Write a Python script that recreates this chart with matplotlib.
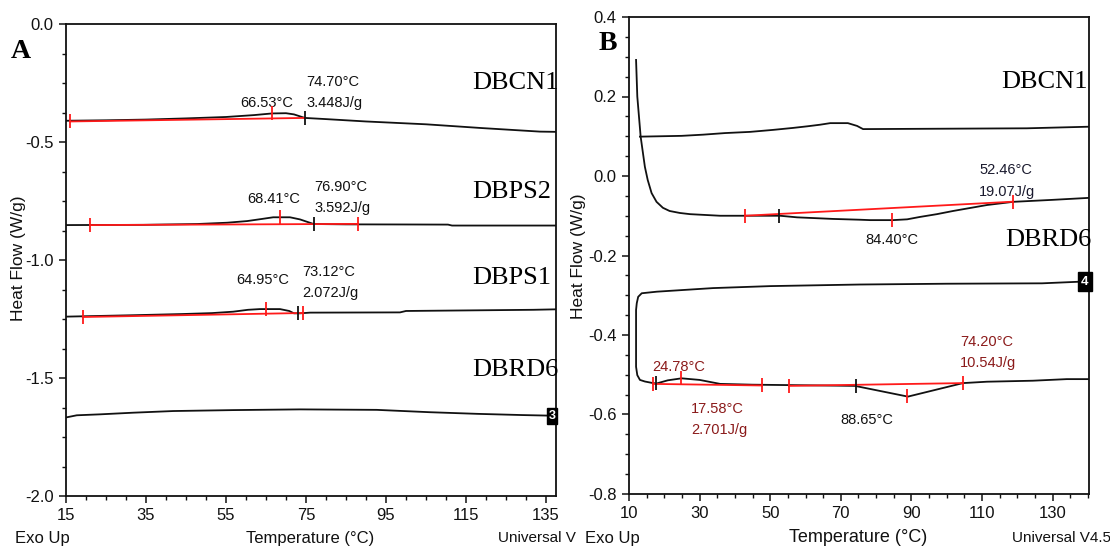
import numpy as np
import matplotlib
matplotlib.use("Agg")
import matplotlib.pyplot as plt
from matplotlib import font_manager as fm
from matplotlib.ticker import FixedLocator, FormatStrFormatter

# ---------------------------------------------------------------- fonts
_names = {f.name for f in fm.fontManager.ttflist}
SANS = "Liberation Sans Narrow" if "Liberation Sans Narrow" in _names else "Liberation Sans"
SERIF = "Liberation Serif"
plt.rcParams["axes.unicode_minus"] = False
plt.rcParams["font.family"] = [SANS, "DejaVu Sans"]

# ---------------------------------------------------------------- panel A data
a_xticks = [15, 35, 55, 75, 95, 115, 135]
a_yticks = [0.0, -0.5, -1.0, -1.5, -2.0]

a_cn1_t = [15, 25, 35, 45, 55, 62, 66.5, 70, 72, 74.7, 80, 90, 105, 119, 133.5, 137.5]
a_cn1_hf = [-0.410, -0.408, -0.405, -0.400, -0.394, -0.386, -0.379, -0.378, -0.383,
            -0.398, -0.403, -0.413, -0.425, -0.441, -0.456, -0.457]

a_ps2_t = [15, 34.3, 47.8, 55.3, 60.3, 64, 66.8, 71, 73.5, 76.9, 85, 100, 110.5, 111.5, 137.5]
a_ps2_hf = [-0.852, -0.851, -0.8475, -0.842, -0.835, -0.826, -0.819, -0.819, -0.828,
            -0.8475, -0.849, -0.8495, -0.850, -0.854, -0.854]

a_ps1_t = [15, 31.8, 44, 51.5, 56.8, 60.5, 63.5, 68.5, 70.8, 72, 73.5, 76, 98.5, 100, 131.8, 137.5]
a_ps1_hf = [-1.240, -1.234, -1.229, -1.225, -1.219, -1.211, -1.208, -1.208, -1.216,
            -1.226, -1.226, -1.223, -1.222, -1.216, -1.211, -1.209]

a_rd6_t = [15.2, 17.7, 23.5, 31.8, 41.8, 56.8, 73.5, 92.7, 106, 118, 129, 137.5]
a_rd6_hf = [-1.6665, -1.658, -1.654, -1.647, -1.640, -1.636, -1.633, -1.635,
            -1.645, -1.652, -1.657, -1.660]

# integration baselines (start / end)
a_cn1_base_t, a_cn1_base_hf = [16, 74.7], [-0.413, -0.398]
a_ps2_base_t, a_ps2_base_hf = [21, 88], [-0.852, -0.847]
a_ps1_base_t, a_ps1_base_hf = [19.2, 74.3], [-1.2415, -1.2246]

# peak / onset temperatures and enthalpies
a_cn1_peak, a_cn1_onset, a_cn1_dh = 66.53, 74.70, 3.448
a_ps2_peak, a_ps2_onset, a_ps2_dh = 68.41, 76.90, 3.592
a_ps1_peak, a_ps1_onset, a_ps1_dh = 64.95, 73.12, 2.072

# ---------------------------------------------------------------- panel B data
b_xticks = [10, 30, 50, 70, 90, 110, 130]
b_yticks = [0.4, 0.2, 0.0, -0.2, -0.4, -0.6, -0.8]

b_cn1_t = [13.1, 24.9, 31, 37.2, 44.3, 50.8, 56.5, 60.5, 64.1, 67, 72, 74.6, 76.3, 100, 122.7, 140.3]
b_cn1_hf = [0.099, 0.101, 0.104, 0.108, 0.111, 0.116, 0.121, 0.125, 0.129, 0.133, 0.133,
            0.126, 0.118, 0.119, 0.120, 0.124]

b_mid_t = [12.0, 12.35, 13.3, 14.5, 15.3, 16.4, 17.8, 19.6, 21.5, 24.4, 27.3, 35.8, 52.8,
           57.6, 67.8, 75.4, 78.3, 84.8, 88.8, 92.4, 97.2, 101.8, 111.4, 118.8, 130, 140.3]
b_mid_hf = [0.292, 0.200, 0.099, 0.023, -0.010, -0.043, -0.065, -0.080, -0.088, -0.093,
            -0.096, -0.100, -0.100, -0.104, -0.108, -0.110, -0.111, -0.111, -0.109, -0.103,
            -0.096, -0.088, -0.073, -0.065, -0.060, -0.055]

b_rd6_t = [137.5, 127, 100, 75.4, 50, 33.8, 17.9, 13.6, 12.6, 12.2, 12.0, 12.0, 12.35, 13.1,
           14.5, 16.8, 17.8, 21, 24.9, 30, 35.8, 45, 55, 65, 74, 89, 104.6, 111.4, 124.4,
           134, 140.3]
b_rd6_hf = [-0.266, -0.270, -0.271, -0.273, -0.277, -0.282, -0.291, -0.295, -0.304, -0.320,
            -0.337, -0.480, -0.501, -0.513, -0.517, -0.521, -0.522, -0.514, -0.509, -0.513,
            -0.523, -0.525, -0.526, -0.527, -0.528, -0.555, -0.521, -0.5175, -0.515,
            -0.511, -0.511]

b_mid_base_t, b_mid_base_hf = [42.9, 118.8], [-0.100, -0.0646]
b_rd6_base1_t, b_rd6_base1_hf = [16.8, 47.7], [-0.523, -0.527]
b_rd6_base2_t, b_rd6_base2_hf = [55.3, 104.6], [-0.528, -0.521]

b_mid_peak, b_mid_onset, b_mid_dh = 84.40, 52.46, 19.07
b_rd6_peak1, b_rd6_onset1, b_rd6_dh1 = 24.78, 17.58, 2.701
b_rd6_peak2, b_rd6_onset2, b_rd6_dh2 = 88.65, 74.20, 10.54

# ---------------------------------------------------------------- figure
W, H = 1110, 548
fig = plt.figure(figsize=(W / 100, H / 100), dpi=100)
fig.patch.set_facecolor("white")


def px_box(l, t, r, b):
    return [l / W, 1 - b / H, (r - l) / W, (b - t) / H]


axA = fig.add_axes(px_box(66, 24, 556, 496))
axB = fig.add_axes(px_box(629, 17, 1089, 494))

RED = "#ff1a1a"
DARKRED = "#8b1a1a"
INK = "#111111"


def style(ax, xlim, ylim, xt, yt, xminor, yminor):
    ax.set_xlim(*xlim)
    ax.set_ylim(*ylim)
    ax.xaxis.set_major_locator(FixedLocator(xt))
    ax.yaxis.set_major_locator(FixedLocator(yt))
    ax.xaxis.set_minor_locator(FixedLocator(xminor))
    ax.yaxis.set_minor_locator(FixedLocator(yminor))
    ax.xaxis.set_major_formatter(FormatStrFormatter("%d"))
    ax.yaxis.set_major_formatter(FormatStrFormatter("%.1f"))
    ax.tick_params(which="major", direction="out", length=5, width=1.1,
                   labelsize=12, pad=4, colors=INK)
    ax.tick_params(which="minor", direction="out", length=3, width=1.0, colors=INK)
    for s in ax.spines.values():
        s.set_linewidth(1.3)
        s.set_color(INK)
    for lab in ax.get_xticklabels() + ax.get_yticklabels():
        lab.set_family([SANS, "DejaVu Sans"])


style(axA, (15, 137.5), (-2.0, 0.0), a_xticks, a_yticks,
      np.arange(15, 137.6, 5), np.arange(-2.0, 0.01, 0.125))
style(axB, (10, 140.3), (-0.8, 0.4), b_xticks, b_yticks,
      np.arange(10, 140.4, 5), np.arange(-0.8, 0.41, 0.05))


def curve(ax, t, hf):
    ax.plot(t, hf, color=INK, lw=1.3, zorder=3)


def base(ax, t, hf):
    ax.plot(t, hf, color=RED, lw=1.3, zorder=4)


def tick(ax, x, y, color):
    ax.plot([x], [y], ls="none", marker="|", ms=10, mew=1.3, color=color, zorder=5)


def on(t, hf, x):
    return float(np.interp(x, t, hf)) if t[0] < t[-1] else float(np.interp(x, t[::-1], hf[::-1]))


# ---------------------------------------------------------------- panel A
for t, hf in [(a_cn1_t, a_cn1_hf), (a_ps2_t, a_ps2_hf), (a_ps1_t, a_ps1_hf), (a_rd6_t, a_rd6_hf)]:
    curve(axA, t, hf)

for (bt, bh, ct, ch, pk, on_t) in [
        (a_cn1_base_t, a_cn1_base_hf, a_cn1_t, a_cn1_hf, a_cn1_peak, a_cn1_onset),
        (a_ps2_base_t, a_ps2_base_hf, a_ps2_t, a_ps2_hf, a_ps2_peak, a_ps2_onset),
        (a_ps1_base_t, a_ps1_base_hf, a_ps1_t, a_ps1_hf, a_ps1_peak, a_ps1_onset)]:
    base(axA, bt, bh)
    tick(axA, bt[0], bh[0], RED)
    if bt[1] > on_t + 1:
        tick(axA, bt[1], bh[1], RED)
    tick(axA, pk, on(ct, ch, pk), RED)
    tick(axA, on_t, on(ct, ch, on_t), INK)

fs_ann = 10.5
axA.text(65.25, -0.335, f"{a_cn1_peak:.2f}°C", ha="center", va="center", fontsize=fs_ann, color=INK)
axA.text(75.0, -0.246, f"{a_cn1_onset:.2f}°C", ha="left", va="center", fontsize=fs_ann, color=INK)
axA.text(75.0, -0.335, f"{a_cn1_dh:.3f}J/g", ha="left", va="center", fontsize=fs_ann, color=INK)
axA.text(67.0, -0.742, f"{a_ps2_peak:.2f}°C", ha="center", va="center", fontsize=fs_ann, color=INK)
axA.text(77.0, -0.690, f"{a_ps2_onset:.2f}°C", ha="left", va="center", fontsize=fs_ann, color=INK)
axA.text(77.0, -0.780, f"{a_ps2_dh:.3f}J/g", ha="left", va="center", fontsize=fs_ann, color=INK)
axA.text(64.25, -1.085, f"{a_ps1_peak:.2f}°C", ha="center", va="center", fontsize=fs_ann, color=INK)
axA.text(74.0, -1.051, f"{a_ps1_onset:.2f}°C", ha="left", va="center", fontsize=fs_ann, color=INK)
axA.text(74.0, -1.140, f"{a_ps1_dh:.3f}J/g", ha="left", va="center", fontsize=fs_ann, color=INK)

for name, y in [("DBCN1", -0.25), ("DBPS2", -0.712), ("DBPS1", -1.076), ("DBRD6", -1.466)]:
    axA.text(116.5, y, name, ha="left", va="center", fontsize=19, family=SERIF,
             color="black", clip_on=False)

axA.text(137.4, a_rd6_hf[-1], "3", ha="right", va="center", fontsize=9, color="white",
         fontweight="bold", zorder=6,
         bbox=dict(boxstyle="square,pad=0.15", facecolor="black", edgecolor="black"))

# ---------------------------------------------------------------- panel B
for t, hf in [(b_cn1_t, b_cn1_hf), (b_mid_t, b_mid_hf), (b_rd6_t, b_rd6_hf)]:
    curve(axB, t, hf)

lower_t = b_rd6_t[13:]
lower_hf = b_rd6_hf[13:]

base(axB, b_mid_base_t, b_mid_base_hf)
tick(axB, b_mid_base_t[0], b_mid_base_hf[0], RED)
tick(axB, b_mid_base_t[1], b_mid_base_hf[1], RED)
tick(axB, b_mid_peak, on(b_mid_t, b_mid_hf, b_mid_peak), RED)
tick(axB, b_mid_onset, on(b_mid_t, b_mid_hf, b_mid_onset), INK)

for bt, bh, pk, on_t in [(b_rd6_base1_t, b_rd6_base1_hf, b_rd6_peak1, b_rd6_onset1),
                         (b_rd6_base2_t, b_rd6_base2_hf, b_rd6_peak2, b_rd6_onset2)]:
    base(axB, bt, bh)
    tick(axB, bt[0], bh[0], RED)
    tick(axB, bt[1], bh[1], RED)
    tick(axB, pk, on(lower_t, lower_hf, pk), RED)
    tick(axB, on_t, on(lower_t, lower_hf, on_t), INK)

axB.text(109.2, 0.015, f"{b_mid_onset:.2f}°C", ha="left", va="center", fontsize=fs_ann, color="#1a1a2e")
axB.text(109.2, -0.040, f"{b_mid_dh:.2f}J/g", ha="left", va="center", fontsize=fs_ann, color="#1a1a2e")
axB.text(84.5, -0.161, f"{b_mid_peak:.2f}°C", ha="center", va="center", fontsize=fs_ann, color=INK)
axB.text(16.5, -0.480, f"{b_rd6_peak1:.2f}°C", ha="left", va="center", fontsize=fs_ann, color=DARKRED)
axB.text(27.6, -0.586, f"{b_rd6_onset1:.2f}°C", ha="left", va="center", fontsize=fs_ann, color=DARKRED)
axB.text(27.6, -0.639, f"{b_rd6_dh1:.3f}J/g", ha="left", va="center", fontsize=fs_ann, color=DARKRED)
axB.text(103.8, -0.4176, f"{b_rd6_onset2:.2f}°C", ha="left", va="center", fontsize=fs_ann, color=DARKRED)
axB.text(103.8, -0.470, f"{b_rd6_dh2:.2f}J/g", ha="left", va="center", fontsize=fs_ann, color=DARKRED)
axB.text(69.8, -0.614, f"{b_rd6_peak2:.2f}°C", ha="left", va="center", fontsize=fs_ann, color=INK)

axB.text(115.4, 0.2365, "DBCN1", ha="left", va="center", fontsize=19, family=SERIF, color="black")
axB.text(116.5, -0.161, "DBRD6", ha="left", va="center", fontsize=19, family=SERIF,
         color="black", clip_on=False)

axB.text(140.2, b_rd6_hf[0], "4", ha="right", va="center", fontsize=9.5, color="white",
         fontweight="bold", zorder=6,
         bbox=dict(boxstyle="square,pad=0.25", facecolor="black", edgecolor="black"))

# ---------------------------------------------------------------- figure labels
def ftxt(x, y, s, **kw):
    fig.text(x / W, 1 - y / H, s, **kw)


ftxt(21, 51, "A", fontsize=20, family=SERIF, fontweight="bold", ha="center", va="center")
ftxt(608, 43, "B", fontsize=20, family=SERIF, fontweight="bold", ha="center", va="center")

ftxt(19, 258, "Heat Flow (W/g)", rotation=90, fontsize=12.5, ha="center", va="center",
     family=["Liberation Sans", "DejaVu Sans"], color=INK)
ftxt(578, 256, "Heat Flow (W/g)", rotation=90, fontsize=12.5, ha="center", va="center",
     family=["Liberation Sans", "DejaVu Sans"], color=INK)

ftxt(15, 538, "Exo Up", fontsize=12, ha="left", va="center", color=INK)
ftxt(310, 538, "Temperature (°C)", fontsize=12, ha="center", va="center", color=INK)
ftxt(498, 538, "Universal V", fontsize=11, ha="left", va="center", color=INK)
ftxt(585, 538, "Exo Up", fontsize=12, ha="left", va="center", color=INK)
ftxt(858, 538, "Temperature (°C)", fontsize=13, ha="center", va="center", color=INK)
ftxt(1012, 538, "Universal V4.5", fontsize=11, ha="left", va="center", color=INK)

fig.savefig("out.png", dpi=100, facecolor="white")
